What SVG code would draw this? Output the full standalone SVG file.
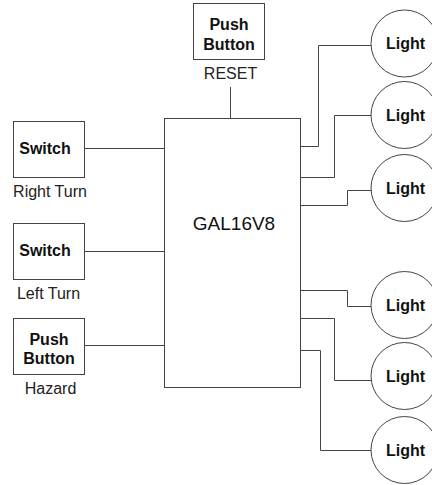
<svg xmlns="http://www.w3.org/2000/svg" width="432" height="485" viewBox="0 0 432 485">
<style>
.box{fill:#fff;stroke:#444;stroke-width:1}
.wire{fill:none;stroke:#444;stroke-width:1}
.b{font-family:"Liberation Sans",Arial,sans-serif;font-weight:bold;font-size:16px;fill:#111;text-anchor:middle}
.l{font-family:"Liberation Sans",Arial,sans-serif;font-size:16px;fill:#222;text-anchor:middle}
.g{font-family:"Liberation Sans",Arial,sans-serif;font-size:19px;fill:#111;text-anchor:middle}
</style>
<rect width="432" height="485" fill="#fff"/>
<g id="connectors">
<path class="wire" d="M84.5 148.5H164.5"/>
<path class="wire" d="M84.5 251.5H164.5"/>
<path class="wire" d="M84.5 345.5H164.5"/>
<path class="wire" d="M230.5 87V118.5"/>
<path class="wire" d="M300.5 146.5H318.5V45.5H371.5"/>
<path class="wire" d="M300.5 177.5H334.5V115.5H371"/>
<path class="wire" d="M300.5 205.5H347.5V190.5H371"/>
<path class="wire" d="M300.5 290.5H347.5V306.5H371"/>
<path class="wire" d="M300.5 318.5H334.5V380.5H371"/>
<path class="wire" d="M300.5 350.5H320.5V450.5H371"/>
</g>
<g id="gal">
<rect class="box" x="164.5" y="118.5" width="136" height="269"/>
<text class="g" x="234" y="230">GAL16V8</text>
</g>
<g id="reset">
<rect class="box" x="193.5" y="3.5" width="71" height="56"/>
<text class="b" x="229" y="30">Push</text>
<text class="b" x="229" y="50">Button</text>
<text class="l" x="230.5" y="79">RESET</text>
</g>
<g id="right-turn">
<rect class="box" x="13.5" y="121.5" width="71" height="56"/>
<text class="b" x="45" y="154">Switch</text>
<text class="l" x="50" y="197">Right Turn</text>
</g>
<g id="left-turn">
<rect class="box" x="13.5" y="223.5" width="71" height="56"/>
<text class="b" x="45" y="256">Switch</text>
<text class="l" x="48.5" y="299">Left Turn</text>
</g>
<g id="hazard">
<rect class="box" x="13.5" y="318.5" width="71" height="56"/>
<text class="b" x="49" y="345">Push</text>
<text class="b" x="49" y="364">Button</text>
<text class="l" x="50.5" y="394">Hazard</text>
</g>
<g id="light1"><circle class="box" cx="404.5" cy="43.5" r="33.5"/><text class="b" x="405.5" y="49">Light</text></g>
<g id="light2"><circle class="box" cx="404.5" cy="115" r="33.5"/><text class="b" x="405.5" y="120.5">Light</text></g>
<g id="light3"><circle class="box" cx="404.5" cy="188" r="33.5"/><text class="b" x="405.5" y="193.5">Light</text></g>
<g id="light4"><circle class="box" cx="404.5" cy="305" r="33.5"/><text class="b" x="405.5" y="310.5">Light</text></g>
<g id="light5"><circle class="box" cx="404.5" cy="376" r="33.5"/><text class="b" x="405.5" y="381.5">Light</text></g>
<g id="light6"><circle class="box" cx="404.5" cy="450" r="33.5"/><text class="b" x="405.5" y="455.5">Light</text></g>
</svg>
